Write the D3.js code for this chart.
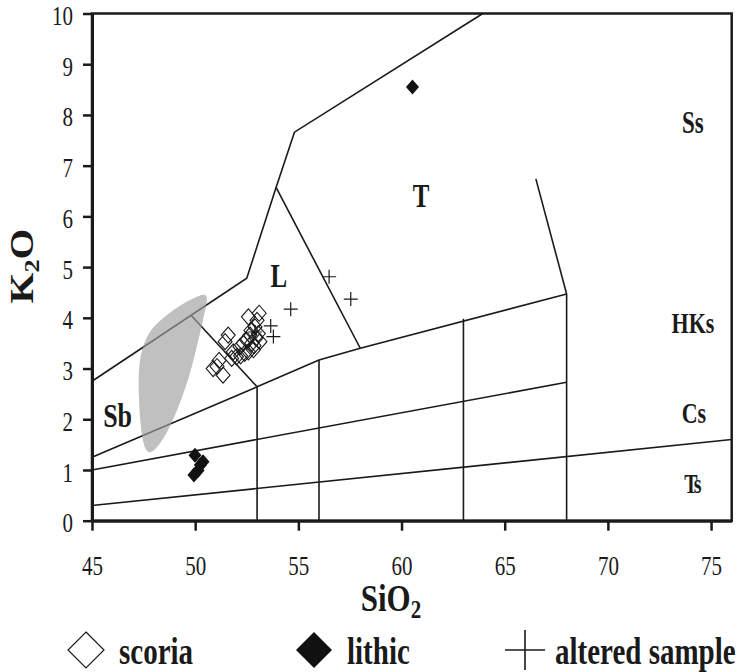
<!DOCTYPE html>
<html>
<head>
<meta charset="utf-8">
<script src="https://cdn.jsdelivr.net/npm/d3@7"></script>
<style>
body{margin:0;background:#fff}
text{font-family:"Liberation Serif","Times New Roman",serif;fill:#1a1a1a}
</style>
</head>
<body>
<div></div>
<script>
// data (SiO2, K2O)
const xTicks = [45, 50, 55, 60, 65, 70, 75]
const yTicks = [0, 1, 2, 3, 4, 5, 6, 7, 8, 9, 10]

const scoria = [[50.87,3.00],[51.06,3.04],[51.35,2.87],[51.16,3.16],[51.6,3.66],[51.45,3.53],[51.85,3.33],
  [51.77,3.20],[52.0,3.23],[52.17,3.43],[52.33,3.50],[52.58,4.02],[53.1,4.09],[52.9,3.82],[52.66,3.66],
  [52.5,3.56],[52.74,3.50],[53.14,3.53],[52.82,3.37],[52.58,3.33],[53.06,3.69],[52.95,3.6],[52.7,3.75],
  [52.85,3.45],[52.4,3.3],[53.0,3.95],[52.2,3.25]]
const lithic = [[60.53,8.55],[49.99,1.29],[50.38,1.16],[50.14,0.99],[49.94,0.90],[50.25,1.1]]
const altered = [[56.49,4.81],[57.54,4.37],[54.63,4.17],[53.66,3.84],[53.79,3.63],[52.9,3.72]]

// field boundaries
const boundaries = [
  [[45,0.3],[76,1.6]],
  [[45,1.0],[68,2.73]],
  [[45,1.25],[53,2.64],[56,3.17],[58,3.4],[68,4.47]],
  [[53,0],[53,2.64]],
  [[56,0],[56,3.17]],
  [[63,0],[63,3.98]],
  [[68,0],[68,4.47]],
  [[45,2.75],[52.5,4.78],[53.92,6.57],[54.81,7.66],[63.94,10]],
  [[49.8,4.05],[53,2.64]],
  [[53.92,6.57],[58,3.4]],
  [[66.51,6.74],[68,4.47]]
]
// grey field
const greyField = [[50.55,4.42],[50.38,3.96],[50.04,3.37],[49.65,2.78],[49.02,2.08],[48.39,1.58],[47.81,1.35],
  [47.47,1.58],[47.28,2.37],[47.33,3.17],[47.81,3.72],[48.78,4.1],[49.9,4.38]]

const fieldLabels = [
  {t:"Sb", x:46.24, y:1.85, s:26},
  {t:"L", x:54.06, y:4.61, s:25},
  {t:"T", x:60.95, y:6.18, s:25},
  {t:"Ss", x:74.12, y:7.64, s:23},
  {t:"HKs", x:74.12, y:3.71, s:22},
  {t:"Cs", x:74.17, y:1.93, s:22},
  {t:"Ts", x:74.07, y:0.55, s:20}
]

const svgWidth = 745
const svgHeight = 672
const plot = {left:92, right:731.7, top:13.5, bottom:520.7}
const stretch = 1.33
const serif = '"Liberation Serif","Times New Roman",serif'

function translate(x,y){return `translate(${x}, ${y})`}

const svg = d3.select("div").append("svg").attr("width",svgWidth).attr("height",svgHeight)
  .attr("font-family", serif)

const xScale = d3.scaleLinear().domain([45,76]).range([plot.left, plot.right])
const yScale = d3.scaleLinear().domain([0,10]).range([plot.bottom, plot.top])

const line = d3.line().x(d=>xScale(d[0])).y(d=>yScale(d[1]))

svg.append("g").selectAll("path").data(boundaries).join("path")
  .attr("d", line)
  .attr("fill","none")
  .attr("stroke","#1a1a1a")
  .attr("stroke-width",1.6)

svg.append("path")
  .attr("d", d3.line().x(d=>xScale(d[0])).y(d=>yScale(d[1])).curve(d3.curveCardinalClosed)(greyField))
  .attr("fill","#a0a0a0")
  .attr("fill-opacity",0.66)

function diamond(w,h){return `M0,${-h}L${w},0L0,${h}L${-w},0Z`}

svg.append("g").selectAll("path").data(scoria).join("path")
  .attr("transform", d=>translate(xScale(d[0]), yScale(d[1])))
  .attr("d", diamond(7,8))
  .attr("fill","none").attr("stroke","#1a1a1a").attr("stroke-width",1.1)

svg.append("g").selectAll("path").data(lithic).join("path")
  .attr("transform", d=>translate(xScale(d[0]), yScale(d[1])))
  .attr("d", diamond(6.5,7.5))
  .attr("fill","#111")

svg.append("g").selectAll("path").data(altered).join("path")
  .attr("transform", d=>translate(xScale(d[0]), yScale(d[1])))
  .attr("d", "M-7,0H7M0,-7V7")
  .attr("stroke","#1a1a1a").attr("stroke-width",1.2)

// field labels
svg.append("g").selectAll("text").data(fieldLabels).join("text")
  .attr("transform", d=>translate(xScale(d.x), yScale(d.y)) + ` scale(1,${stretch})`)
  .attr("text-anchor","middle")
  .attr("font-weight","bold")
  .attr("font-size", d=>d.s)
  .attr("letter-spacing", d=>d.t=="Ts" ? -2 : 0)
  .text(d=>d.t)

// frame
svg.append("rect")
  .attr("x",plot.left).attr("y",plot.top)
  .attr("width",plot.right-plot.left).attr("height",plot.bottom-plot.top)
  .attr("fill","none").attr("stroke","#1a1a1a").attr("stroke-width",2.5)

// axes
const xAxis = d3.axisBottom(xScale).tickValues(xTicks).tickSize(10).tickSizeOuter(0)
const yAxis = d3.axisLeft(yScale).tickValues(yTicks).tickSize(9).tickSizeOuter(0)

const gx = svg.append("g").attr("transform", translate(0, plot.bottom)).call(xAxis)
const gy = svg.append("g").attr("transform", translate(plot.left, 0)).call(yAxis)

;[gx, gy].forEach(g=>{
  g.attr("font-family", serif).attr("font-size",21)
  g.select(".domain").attr("stroke","#1a1a1a").attr("stroke-width",3)
  g.selectAll(".tick line").attr("stroke","#1a1a1a").attr("stroke-width",2.5)
  g.selectAll(".tick text").attr("fill","#1a1a1a")
})
gx.selectAll(".tick text").attr("y",40.5).attr("dy",0).attr("transform",`scale(1,${stretch})`)
gy.selectAll(".tick text").attr("x",-19).attr("dy",0).attr("y",8.3).attr("transform",`scale(1,${stretch})`)

// axis titles
const xt = svg.append("text").attr("transform", translate(391, 611) + " scale(1,1.2)")
  .attr("text-anchor","middle").attr("font-weight","bold").attr("font-size",31)
xt.append("tspan").text("SiO")
xt.append("tspan").attr("font-size",21).attr("dy",6).text("2")

const yt = svg.append("text").attr("transform", translate(33, 266) + " rotate(-90) scale(1.2,1)")
  .attr("text-anchor","middle").attr("font-weight","bold").attr("font-size",33)
yt.append("tspan").text("K")
yt.append("tspan").attr("font-size",22).attr("dy",6).text("2")
yt.append("tspan").attr("dy",-6).text("O")

// legend
const legendItems = [
  {name:"scoria", x:86, mark:"open"},
  {name:"lithic", x:314, mark:"filled"},
  {name:"altered sample", x:525, mark:"plus"}
]
const lg = svg.append("g").selectAll("g").data(legendItems).join("g")
  .attr("transform", d=>translate(d.x, 650))
lg.append("path")
  .attr("d", d=>d.mark=="plus" ? "M-20,0H20M0,-20V20" : diamond(18,18))
  .attr("fill", d=>d.mark=="filled" ? "#111" : "none")
  .attr("stroke", d=>d.mark=="filled" ? "none" : "#1a1a1a")
  .attr("stroke-width", d=>d.mark=="plus" ? 1.6 : 1.2)
lg.append("text")
  .attr("transform", d=>translate(d.mark=="plus" ? 30 : 33, 14) + " scale(1,1.3)")
  .attr("font-weight","bold").attr("font-size",29)
  .text(d=>d.name)
</script>
</body>
</html>
